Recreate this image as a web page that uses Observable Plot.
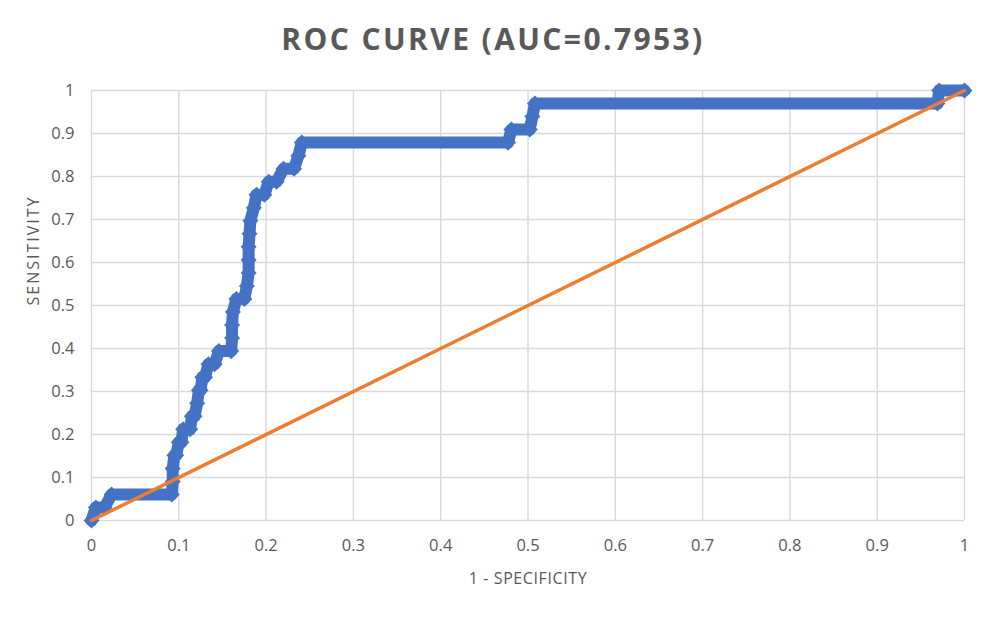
<!DOCTYPE html>
<html><head><meta charset="utf-8">
<script src="https://cdn.jsdelivr.net/npm/d3@7"></script>
<script src="https://cdn.jsdelivr.net/npm/@observablehq/plot@0.6"></script>
<style>
body{margin:0;background:#fff;font-family:"Open Sans",sans-serif;}
#title{box-sizing:border-box;height:70px;padding-top:19px;text-align:center;font-weight:bold;font-size:30px;line-height:1.362;color:#595959;letter-spacing:2.4px;}
</style></head><body>
<div id="title">ROC CURVE (AUC=0.7953)</div>
<div id="chart"></div>
<script>
// ROC curve corner points (1 - specificity, sensitivity)
const fpr = [0, 0.005, 0.015, 0.023, 0.092, 0.093, 0.093, 0.095, 0.097, 0.100, 0.103, 0.105, 0.113, 0.115, 0.118, 0.121, 0.123, 0.125, 0.127, 0.130, 0.134, 0.141, 0.146, 0.160, 0.161, 0.161, 0.162, 0.166, 0.175, 0.178, 0.180, 0.180, 0.180, 0.181, 0.182, 0.186, 0.189, 0.198, 0.203, 0.212, 0.220, 0.232, 0.237, 0.241, 0.477, 0.481, 0.502, 0.505, 0.508, 0.969, 0.971, 1.0];
const tpr = [0, 0.0303, 0.0303, 0.0606, 0.0606, 0.0909, 0.1212, 0.1515, 0.1515, 0.1818, 0.1818, 0.2121, 0.2121, 0.2424, 0.2424, 0.2727, 0.3030, 0.3030, 0.3333, 0.3333, 0.3636, 0.3636, 0.3939, 0.3939, 0.4242, 0.4545, 0.4848, 0.5152, 0.5152, 0.5455, 0.5758, 0.6061, 0.6364, 0.6667, 0.6970, 0.7273, 0.7576, 0.7576, 0.7879, 0.7879, 0.8182, 0.8182, 0.8485, 0.8788, 0.8788, 0.9091, 0.9091, 0.9394, 0.9697, 0.9697, 1.0, 1.0];
// reference (chance) line
const refX = [0, 1];
const refY = [0, 1];
const ticks = [0, 0.1, 0.2, 0.3, 0.4, 0.5, 0.6, 0.7, 0.8, 0.9, 1];
const xLabel = "1 - SPECIFICITY";
const yLabel = "SENSITIVITY";

const roc = fpr.map((x, i) => ({x, y: tpr[i]}));
const ref = refX.map((x, i) => ({x, y: refY[i]}));

const chart = Plot.plot({
  width: 986,
  height: 549,
  marginTop: 20,
  marginBottom: 99,
  marginLeft: 91,
  marginRight: 22,
  style: {fontFamily: "'Open Sans', sans-serif", fontSize: "16.5px", color: "#595959", background: "#fff"},
  x: {domain: [0, 1]},
  y: {domain: [0, 1]},
  marks: [
    Plot.gridX(ticks, {stroke: "#d9d9d9", strokeOpacity: 1, strokeWidth: 1.4}),
    Plot.gridY(ticks, {stroke: "#d9d9d9", strokeOpacity: 1, strokeWidth: 1.4}),
    Plot.axisX(ticks, {tickSize: 0, tickPadding: 19, tickFormat: d => String(d), label: null, fill: "#595959"}),
    Plot.axisY(ticks, {tickSize: 0, tickPadding: 17, tickFormat: d => String(d), label: null, fill: "#595959"}),
    Plot.line(roc, {x: "x", y: "y", stroke: "#4472C4", strokeWidth: 12, strokeLinejoin: "round", strokeLinecap: "round"}),
    Plot.dot(roc, {x: "x", y: "y", symbol: "square", r: 6.4, rotate: 45, fill: "#4472C4", stroke: null}),
    Plot.line(ref, {x: "x", y: "y", stroke: "#ED7D31", strokeWidth: 3.5}),
    Plot.text([xLabel], {frameAnchor: "bottom", dy: 63, fontSize: 16, fill: "#595959"}),
    Plot.text([yLabel], {frameAnchor: "left", dx: -58, rotate: -90, fontSize: 16, fill: "#595959"})
  ]
});
document.getElementById("chart").appendChild(chart);
// letter spacing on axis labels
chart.querySelectorAll("text").forEach(t => {
  if (t.textContent === xLabel) t.style.letterSpacing = "0.6px";
  if (t.textContent === yLabel) t.style.letterSpacing = "2px";
});
</script>
</body></html>
